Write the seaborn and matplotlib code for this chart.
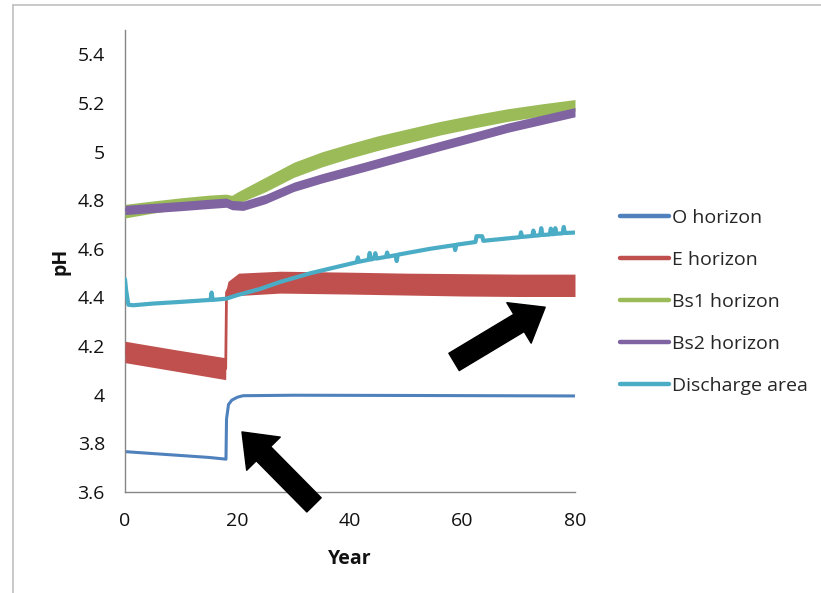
import numpy as np
import pandas as pd
import matplotlib
matplotlib.use("Agg")
import matplotlib.pyplot as plt
import seaborn as sns
from matplotlib.lines import Line2D
from matplotlib.patches import FancyArrowPatch, ArrowStyle

sns.set_theme(style="white")
plt.rcParams['font.family'] = ['Open Sans', 'DejaVu Sans']

# series (year, pH)
o_years = [0, 5, 10, 15, 17.95, 18.05, 18.4, 19.0, 20.0, 21.0, 30, 50, 80]
o_ph = [3.766, 3.758, 3.750, 3.742, 3.735, 3.90, 3.960, 3.978, 3.990, 3.996, 3.998, 3.997, 3.995]

e_years = [0, 9, 17.9, 18.05, 18.3, 20.2, 27.6, 40, 50, 60, 70, 80]
e_low = [4.132, 4.097, 4.062, 4.400, 4.400, 4.408, 4.418, 4.414, 4.410, 4.406, 4.404, 4.404]
e_high = [4.220, 4.185, 4.152, 4.440, 4.466, 4.500, 4.508, 4.504, 4.500, 4.498, 4.496, 4.496]

bs1_years = [0, 5, 10, 15, 18, 19, 20, 25, 30, 35, 40, 45, 50, 56, 62, 68, 74, 80]
bs1_low = [4.727, 4.747, 4.764, 4.779, 4.785, 4.780, 4.786, 4.835, 4.894, 4.937, 4.973, 5.005,
           5.034, 5.068, 5.097, 5.124, 5.146, 5.166]
bs1_high = [4.783, 4.797, 4.810, 4.821, 4.825, 4.820, 4.834, 4.895, 4.956, 4.999, 5.033, 5.065,
            5.092, 5.124, 5.151, 5.176, 5.196, 5.214]

bs2_years = [0, 5, 10, 15, 18, 19, 21, 25, 30, 35, 43, 50, 56, 62, 68, 74, 80]
bs2_low = [4.741, 4.749, 4.757, 4.766, 4.771, 4.761, 4.758, 4.786, 4.836, 4.871, 4.921, 4.966,
           5.004, 5.041, 5.079, 5.111, 5.143]
bs2_high = [4.779, 4.787, 4.795, 4.804, 4.809, 4.799, 4.796, 4.824, 4.874, 4.909, 4.959, 5.004,
            5.042, 5.079, 5.117, 5.149, 5.181]

dis_years = [0, 0.2, 0.6, 1.5, 5, 10, 15.2, 15.4, 15.6, 18, 20, 24, 27.6, 33,
             41.2, 41.4, 41.6, 43.3, 43.5, 43.7, 44.3, 44.5, 44.7, 46.4, 46.6, 46.8,
             48.1, 48.3, 48.5, 54.2, 58.5, 58.7, 58.9, 62.3, 62.5, 63.5, 63.7,
             70.2, 70.4, 70.6, 72.4, 72.6, 72.8, 73.8, 74.0, 74.2, 75.5, 75.7, 75.9,
             76.3, 76.5, 76.7, 77.8, 78.0, 78.2, 80]
dis_ph = [4.475, 4.430, 4.370, 4.368, 4.375, 4.382, 4.390, 4.420, 4.390, 4.395, 4.410, 4.435, 4.464, 4.500,
          4.545, 4.565, 4.547, 4.555, 4.583, 4.556, 4.560, 4.582, 4.560, 4.567, 4.585, 4.568,
          4.574, 4.550, 4.576, 4.600, 4.615, 4.595, 4.617, 4.628, 4.652, 4.652, 4.633,
          4.648, 4.668, 4.649, 4.653, 4.675, 4.654, 4.656, 4.685, 4.657, 4.659, 4.683, 4.660,
          4.661, 4.685, 4.662, 4.664, 4.690, 4.665, 4.667]

labels = ['O horizon', 'E horizon', 'Bs1 horizon', 'Bs2 horizon', 'Discharge area']
colors = ['#4F81BD', '#C0504D', '#9BBB59', '#8064A2', '#4BACC6']
x_ticks = [0, 20, 40, 60, 80]
y_ticks = [3.6, 3.8, 4.0, 4.2, 4.4, 4.6, 4.8, 5.0, 5.2, 5.4]
y_ticklabels = ['3.6', '3.8', '4', '4.2', '4.4', '4.6', '4.8', '5', '5.2', '5.4']

W, H = 821, 593
fig = plt.figure(figsize=(W / 100, H / 100), dpi=100)
ax = fig.add_axes([125 / W, 1 - 492 / H, 450 / W, 462 / H])

o_df = pd.DataFrame({'Year': o_years, 'pH': o_ph})
sns.lineplot(data=o_df, x='Year', y='pH', ax=ax, color=colors[0], lw=2.2,
             estimator=None, sort=False, zorder=2)

bands = [(e_years, e_low, e_high, colors[1]),
         (bs1_years, bs1_low, bs1_high, colors[2]),
         (bs2_years, bs2_low, bs2_high, colors[3])]
for i, (yrs, lo, hi, c) in enumerate(bands):
    ax.fill_between(yrs, lo, hi, color=c, lw=0, zorder=3 + i)
    mid = pd.DataFrame({'Year': yrs, 'pH': (np.array(lo) + np.array(hi)) / 2})
    sns.lineplot(data=mid, x='Year', y='pH', ax=ax, color=c, lw=2.0,
                 estimator=None, sort=False, zorder=3 + i)

dis_df = pd.DataFrame({'Year': dis_years, 'pH': dis_ph})
sns.lineplot(data=dis_df, x='Year', y='pH', ax=ax, color=colors[4], lw=3.0,
             estimator=None, sort=False, zorder=7)

ax.set_xlim(0, 80)
ax.set_ylim(3.6, 5.5)
ax.set_xticks(x_ticks)
ax.set_yticks(y_ticks)
ax.set_yticklabels(y_ticklabels)
for s in ['top', 'right']:
    ax.spines[s].set_visible(False)
for s in ['left', 'bottom']:
    ax.spines[s].set_color('#868686')
    ax.spines[s].set_linewidth(1.0)
ax.tick_params(axis='both', direction='out', length=5.5, width=1.0, color='#868686',
               labelsize=14, labelcolor='#111111')
ax.tick_params(axis='y', pad=9)
ax.tick_params(axis='x', pad=9)
ax.set_xlabel('Year', fontsize=14, fontweight='bold', color='#111111')
ax.set_ylabel('pH', fontsize=14, fontweight='bold', color='#111111')
ax.xaxis.set_label_coords(0.5, (492 - 549) / 462)
ax.yaxis.set_label_coords((70 - 125) / 450, 0.5)

# annotation arrows
arrows = [((33.6, 3.547), (20.8, 3.847)), ((58.5, 4.135), (74.7, 4.360))]
style = ArrowStyle.Simple(head_length=22, head_width=34, tail_width=14.5)
for tail, tip in arrows:
    ax.add_patch(FancyArrowPatch(tail, tip, arrowstyle=style, mutation_scale=1,
                                 color='black', shrinkA=0, shrinkB=0, clip_on=False, zorder=10))

handles = [Line2D([0], [0], color=c, lw=3.2) for c in colors]
fig.legend(handles, labels, loc='center left', bbox_to_anchor=(620 / W, 1 - 302 / H),
           frameon=False, fontsize=14, handlelength=2.5, handletextpad=0.15,
           labelspacing=1.24, borderpad=0, borderaxespad=0)

# chart border
fig.add_artist(Line2D([13 / W, 13 / W], [0, 1 - 5 / H], transform=fig.transFigure,
                      color='#BFBFBF', lw=1.2))
fig.add_artist(Line2D([13 / W, 1], [1 - 5 / H, 1 - 5 / H], transform=fig.transFigure,
                      color='#BFBFBF', lw=1.2))

fig.savefig('out.png', dpi=100)
